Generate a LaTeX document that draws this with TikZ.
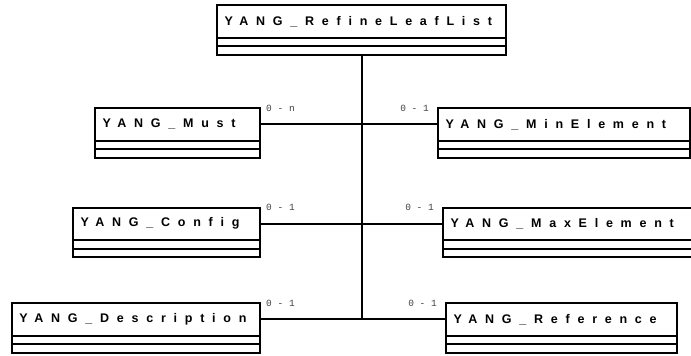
\documentclass[tikz,border=0pt]{standalone}
\usepackage{fontspec}
\usetikzlibrary{calc}
\newfontfamily\titlefont[LetterSpace=62]{Liberation Sans}
\newfontfamily\labelfont{Liberation Mono}
\tikzset{
 umltitle/.style={draw, line width=2pt, rectangle, anchor=north west, outer sep=0pt,
   minimum height=32.5pt, inner xsep=7.5pt, inner ysep=0pt, align=left,
   font=\titlefont\bfseries\fontsize{12.5}{15}\selectfont},
 umlline/.style={line width=2pt},
 conn/.style={line width=2pt},
 mult/.style={font=\labelfont\fontsize{9.5}{10}\selectfont, text=black!75, inner sep=0pt},
}
\newcommand\umlclass[5]{%
 \node[umltitle, text width=#4pt] (#1) at (#2,#3) {#5};
 \draw[umlline] (#1.south west) rectangle ($(#1.south east)+(0,-8.5pt)$);
 \draw[umlline] ($(#1.south west)+(0,-8.5pt)$) rectangle ($(#1.south east)+(0,-17pt)$);
}
\begin{document}
\begin{tikzpicture}[x=1pt,y=-1pt]
\useasboundingbox (0,0) rectangle (691,356);
\umlclass{top}{217}{5}{274}{YANG\_RefineLeafList}
\umlclass{must}{95}{108}{150}{YANG\_Must}
\umlclass{minel}{438}{108}{237}{YANG\_MinElement}
\umlclass{config}{73}{207.5}{172}{YANG\_Config}
\umlclass{maxel}{443}{207.5}{243}{YANG\_MaxElement}
\umlclass{desc}{12}{303}{233}{YANG\_Description}
\umlclass{ref}{446}{303}{216}{YANG\_Reference}
\coordinate (topbot) at ($(top.south)+(0,-17pt)$);
\draw[conn] (topbot) -- (topbot |- desc.east);
\draw[conn] (must.east) -- (minel.west);
\draw[conn] (config.east) -- (maxel.west);
\draw[conn] (desc.east) -- (ref.west);
\node[mult, anchor=west] (lmust) at ($(must.north east)+(6pt,0pt)$) {0 - n};
\node[mult, anchor=east] (lminel) at ($(minel.north west)+(-9pt,0pt)$) {0 - 1};
\node[mult, anchor=west] (lconfig) at ($(config.north east)+(6pt,0pt)$) {0 - 1};
\node[mult, anchor=east] (lmaxel) at ($(maxel.north west)+(-9pt,0pt)$) {0 - 1};
\node[mult, anchor=west] (ldesc) at ($(desc.north east)+(6pt,0pt)$) {0 - 1};
\node[mult, anchor=east] (lref) at ($(ref.north west)+(-9pt,0pt)$) {0 - 1};
\end{tikzpicture}
\end{document}
